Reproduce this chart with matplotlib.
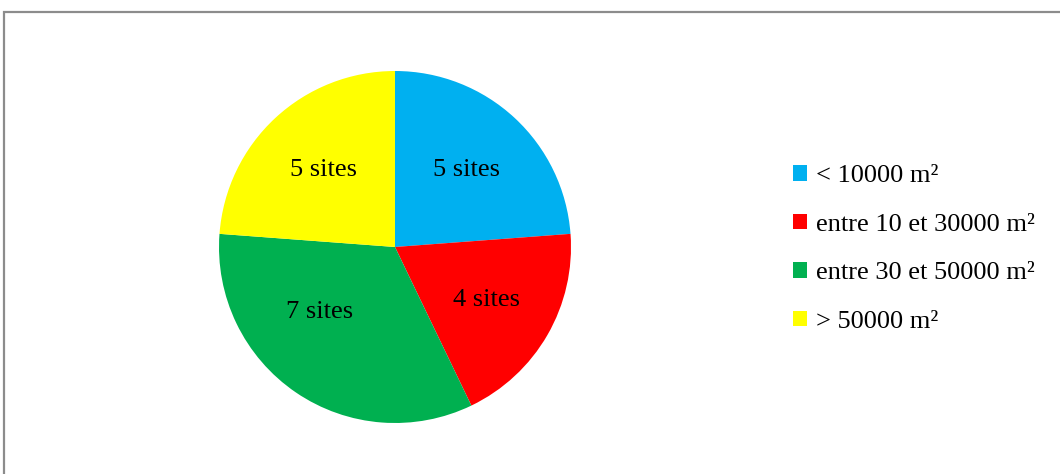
import matplotlib.pyplot as plt
from matplotlib.patches import Rectangle, Patch

# Site counts per surface class
labels = ['< 10000 m²', 'entre 10 et 30000 m²', 'entre 30 et 50000 m²', '> 50000 m²']
sites = [5, 4, 7, 5]
colors = ['#00B0F0', '#FF0000', '#00B050', '#FFFF00']

total = sum(sites)

fig = plt.figure(figsize=(10.6, 4.74), dpi=100)

# Grey chart-area frame (runs off the right and bottom edges)
fig.patches.append(Rectangle((4 / 1060, -0.1), 1.1, 1 - 12 / 474 + 0.1,
                             transform=fig.transFigure, fill=False,
                             edgecolor='#8c8c8c', linewidth=1.6))

ax = fig.add_axes([(395 - 176) / 1060, 51 / 474, 352 / 1060, 352 / 474])
wedges, texts, autotexts = ax.pie(
    sites, colors=colors, startangle=90, counterclock=False,
    autopct=lambda p: f'{round(p * total / 100)} sites', pctdistance=0.6,
    textprops={'family': 'Liberation Serif', 'fontsize': 19, 'color': 'black'})
# the big green slice has its label pulled up a little
autotexts[2].set_position((-0.43, -0.37))
ax.set_xlim(-1, 1)
ax.set_ylim(-1, 1)
ax.set_aspect('equal')

handles = [Patch(facecolor=c, edgecolor='none') for c in colors]
fig.legend(handles, labels, loc='center left', bbox_to_anchor=(793 / 1060, 1 - 249 / 474),
           frameon=False, borderpad=0, borderaxespad=0,
           handlelength=0.53, handleheight=0.53, handletextpad=0.35,
           labelspacing=1.0, prop={'family': 'Liberation Serif', 'size': 19})

fig.savefig('out.png', dpi=100)
